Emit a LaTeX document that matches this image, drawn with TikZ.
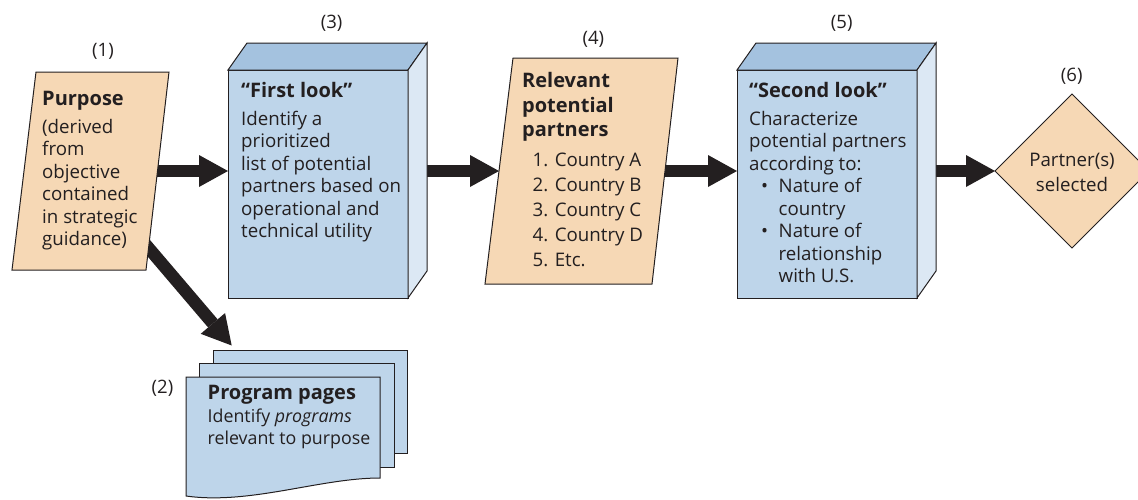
\documentclass[tikz,border=0pt]{standalone}
\usepackage{fontspec}
\setmainfont{Open Sans}
\usetikzlibrary{arrows.meta,shapes.geometric,calc}
\pgfdeclarelayer{bg}
\pgfsetlayers{bg,main}

\definecolor{ink}{HTML}{231F20}
\definecolor{peach}{HTML}{F6D8B5}
\definecolor{boxfront}{HTML}{BED5EA}
\definecolor{boxtop}{HTML}{A4C2DF}
\definecolor{boxside}{HTML}{DCE8F4}

\tikzset{
  outline/.style={draw=ink, line width=1pt, line join=miter},
  front/.style={outline, fill=boxfront, inner sep=0pt, outer sep=0pt},
  flow/.style={draw=ink, line width=12.5pt, line cap=butt,
    -{Triangle[length=29pt, width=32pt, line width=0pt 0]}},
  head/.style={text=ink, inner sep=0pt, font=\fontsize{20}{24.5}\selectfont\bfseries, align=left},
  body/.style={text=ink, inner sep=0pt, font=\fontsize{18.7}{22.5}\selectfont, align=left},
  listtext/.style={text=ink, inner sep=0pt, font=\fontsize{18.7}{25}\selectfont, align=left},
  lbl/.style={text=ink, inner sep=0pt, font=\fontsize{18.5}{22}\selectfont},
}

\begin{document}
\begin{tikzpicture}[x=1pt, y=-1pt]
\useasboundingbox (0,0) rectangle (1138,499);

% ---------- (1) Purpose ----------
\coordinate (p1tl) at (36,72);
\coordinate (p1tr) at (169,72);
\coordinate (p1br) at (146,270);
\coordinate (p1bl) at (12,270);
\coordinate (p1out) at (150,171);
\coordinate (p1down) at (140.5,238.5);
\draw[outline, fill=peach] (p1tl) -- (p1tr) -- (p1br) -- (p1bl) -- cycle;
\node[lbl] (n1) at (103,51) {(1)};
\node[head, anchor=base west] (p1h) at (42,105.7) {Purpose};
\node[body, anchor=north west] (p1t) at (42,117.25)
  {\strut(derived\\\strut from\\\strut objective\\\strut contained\\\strut in strategic\\\strut guidance)};

% ---------- (2) Program pages ----------
\node[front, minimum width=194pt, minimum height=103pt, anchor=north west] (pg3) at (213,350) {};
\node[front, minimum width=195pt, minimum height=104pt, anchor=north west] (pg2) at (199,363) {};
\coordinate (pgtl) at (186,377);
\coordinate (pgtr) at (380,377);
\coordinate (pgbr) at (380,478);
\coordinate (pgbl) at (186,496);
\coordinate (pgin) at (231.7,345.5);
\draw[outline, fill=boxfront] (pgtl) -- (pgtr) -- (pgbr)
  .. controls (320,478) and (250,505) .. (pgbl) -- cycle;
\node[lbl] (n2) at (162.5,388.5) {(2)};
\node[head, anchor=base west] (pgh) at (207.5,399) {Program pages};
\node[body, font=\fontsize{17.8}{22.5}\selectfont, anchor=north west] (pgt) at (207.5,406.25)
  {\strut Identify \textit{programs}\\\strut relevant to purpose};

% ---------- (3) First look ----------
\node[front, minimum width=180pt, minimum height=228pt, anchor=north west] (b3) at (228,70) {};
\draw[outline, fill=boxtop] (b3.north west) -- ++(19,-27)
  -- ([shift={(19,-27)}]b3.north east) -- (b3.north east) -- cycle;
\draw[outline, fill=boxside] (b3.north east) -- ++(19,-27)
  -- ([shift={(19,-27)}]b3.south east) -- (b3.south east) -- cycle;
\node[lbl] (n3) at (331.7,23.3) {(3)};
\node[head, anchor=base west] (b3h) at (241,97.7) {“First look”};
\node[body, anchor=north west] (b3t) at (241,109.25)
  {\strut Identify a\\\strut prioritized\\\strut list of potential\\\strut partners based on\\\strut operational and\\\strut technical utility};

% ---------- (4) Relevant potential partners ----------
\coordinate (p4tl) at (513,58);
\coordinate (p4tr) at (678,58);
\coordinate (p4br) at (652,284);
\coordinate (p4bl) at (485,284);
\coordinate (p4in) at ($(p4tl)!0.5!(p4bl)$);
\coordinate (p4out) at (640,171);
\draw[outline, fill=peach] (p4tl) -- (p4tr) -- (p4br) -- (p4bl) -- cycle;
\node[lbl] (n4) at (593.3,39.5) {(4)};
\node[head, anchor=north west] (p4h) at (522,70.55)
  {\strut Relevant\\\strut potential\\\strut partners};
\node[listtext, anchor=north west] (p4t) at (532.5,149.2)
  {\strut 1. Country A\\\strut 2. Country B\\\strut 3. Country C\\\strut 4. Country D\\\strut 5. Etc.};

% ---------- (5) Second look ----------
\node[front, minimum width=180pt, minimum height=228pt, anchor=north west] (b5) at (737,70) {};
\draw[outline, fill=boxtop] (b5.north west) -- ++(19,-27)
  -- ([shift={(19,-27)}]b5.north east) -- (b5.north east) -- cycle;
\draw[outline, fill=boxside] (b5.north east) -- ++(19,-27)
  -- ([shift={(19,-27)}]b5.south east) -- (b5.south east) -- cycle;
\node[lbl] (n5) at (841.7,23.3) {(5)};
\node[head, anchor=base west] (b5h) at (749,97.7) {“Second look”};
\node[body, anchor=north west] (b5t) at (749,109.25)
  {\strut Characterize\\\strut potential partners\\\strut according to:};
\node[body, anchor=north west] (b5b) at (761,176.75)
  {\strut\textbullet\\\strut\\\strut\textbullet};
\node[body, anchor=north west] (b5l) at (778.5,176.75)
  {\strut Nature of\\\strut country\\\strut Nature of\\\strut relationship\\\strut with U.S.};

% ---------- (6) Partner(s) selected ----------
\node[diamond, outline, fill=peach, aspect=1, minimum width=154pt, minimum height=154pt,
  inner sep=0pt, outer sep=0pt] (d6) at (1072,171) {};
\node[lbl] (n6) at (1071.7,76.7) {(6)};
\node[listtext, align=center, anchor=north] (d6t) at (1072,148.5)
  {\strut Partner(s)\\\strut selected};

% ---------- connectors ----------
\begin{pgfonlayer}{bg}
  \draw[flow] (p1out) -- (p1out -| b3.west);
  \draw[flow] (p1down) -- (pgin);
  \draw[flow] (p4in -| b3.east) -- (p4in);
  \draw[flow] (p4out) -- (p4out -| b5.west);
  \draw[flow] (d6.west -| b5.east) -- (d6.west);
\end{pgfonlayer}
\end{tikzpicture}
\end{document}
